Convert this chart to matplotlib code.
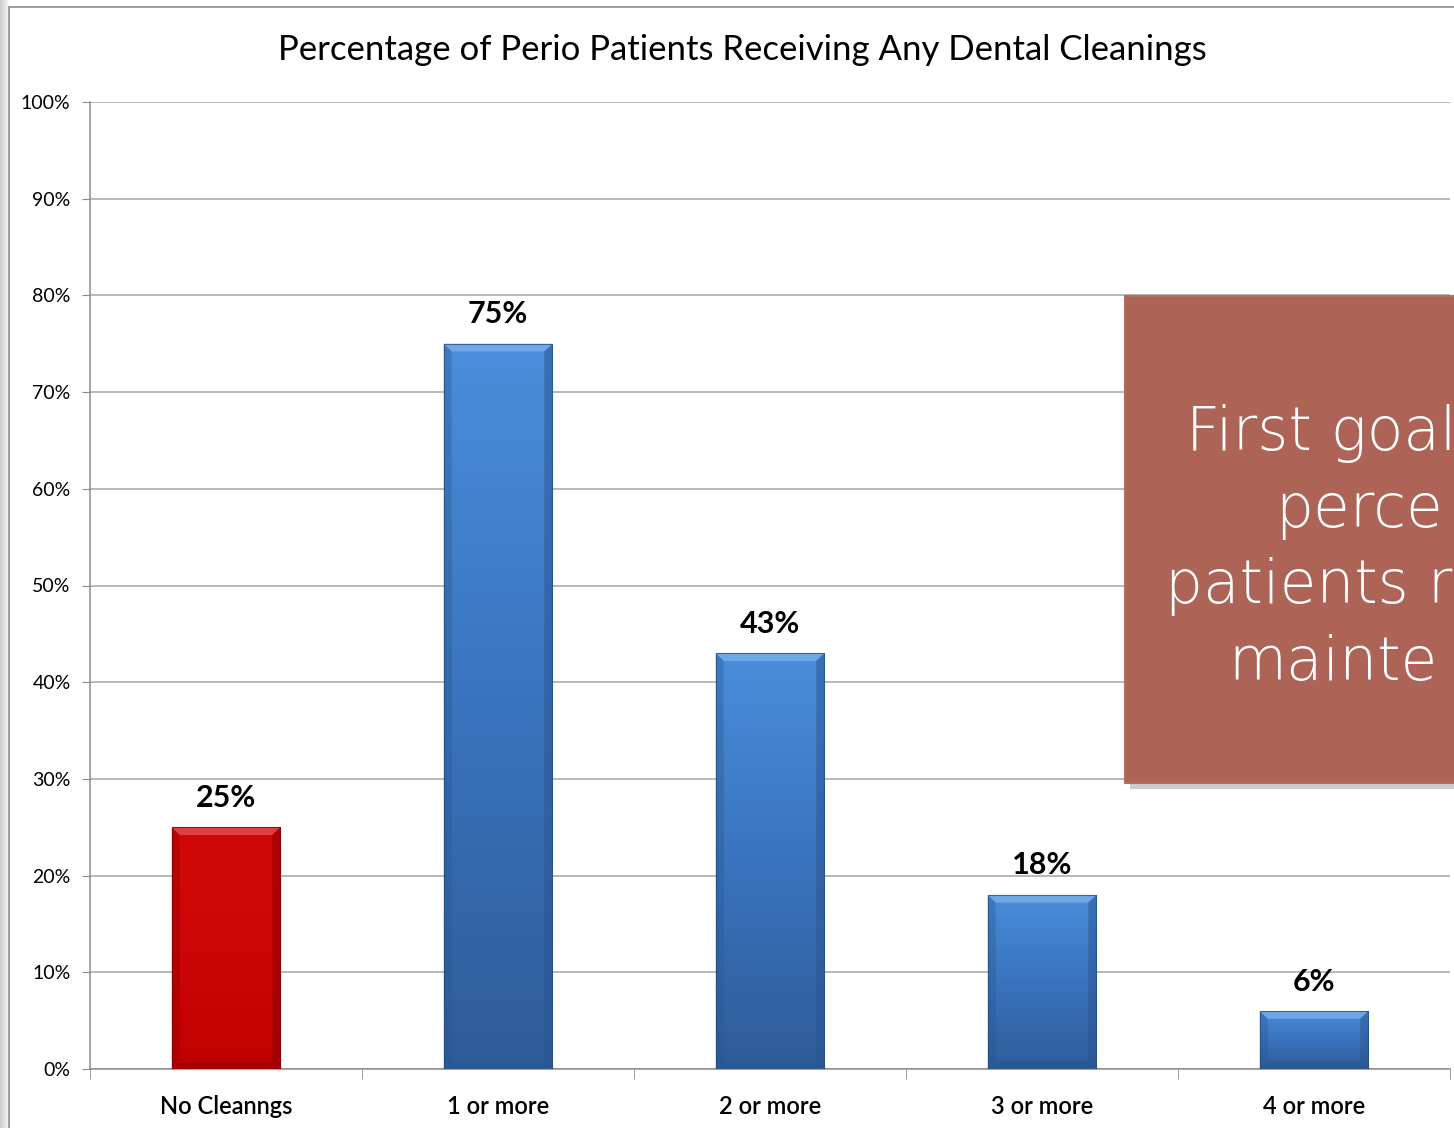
import numpy as np
import matplotlib
matplotlib.use("Agg")
import matplotlib.pyplot as plt
from matplotlib.patches import Rectangle, Polygon
from matplotlib.colors import LinearSegmentedColormap

# data
categories = ["No Cleanngs", "1 or more", "2 or more", "3 or more", "4 or more"]
values = [25, 75, 43, 18, 6]
value_labels = ["25%", "75%", "43%", "18%", "6%"]
y_ticks = [0, 10, 20, 30, 40, 50, 60, 70, 80, 90, 100]
title = "Percentage of Perio Patients Receiving Any Dental Cleanings"
note_lines = ["First goal", "perce", "patients r", "mainte"]

W, H = 1454, 1128
fig = plt.figure(figsize=(W / 100, H / 100), dpi=100)
fig.patch.set_facecolor("white")

def fx(px):
    return px / W

def fy(py):
    return 1 - py / H

# soft shadow strip left of the chart frame, and the frame itself
for i in range(9):
    shade = 0.80 + 0.02 * i
    fig.add_artist(Rectangle((fx(i), 0), fx(1), 1, transform=fig.transFigure,
                             facecolor=(shade, shade, shade), edgecolor="none", zorder=0))
fig.add_artist(Rectangle((fx(9), -0.01), 1.2, fy(7) + 0.01, transform=fig.transFigure,
                         facecolor="white", edgecolor="#8c8c8c", lw=1.2, zorder=0.5))

ax = fig.add_axes([fx(90), fy(1069), fx(1450 - 90), (1069 - 102) / H])
ax.set_facecolor("none")
ax.set_zorder(2)

x = np.arange(len(categories))
bars = ax.bar(x, values, width=0.4, color="none", edgecolor="none", zorder=3)

blue = LinearSegmentedColormap.from_list("b", ["#2e5c99", "#3a73bd", "#4a8edb"])
red = LinearSegmentedColormap.from_list("r", ["#c00000", "#cc0606", "#d00808"])
bx, by = 0.03, 0.8   # bevel size in data units
for i, b in enumerate(bars):
    x0, w, h = b.get_x(), b.get_width(), b.get_height()
    cmap = red if i == 0 else blue
    grad = np.linspace(0, 1, 256).reshape(-1, 1)
    im = ax.imshow(grad, extent=[x0, x0 + w, 0, h], origin="lower", aspect="auto",
                   cmap=cmap, zorder=3)
    im.set_clip_path(b)
    x1 = x0 + w
    top = "#e04848" if i == 0 else "#74aaea"
    side = "#8e0000" if i == 0 else "#2a5590"
    # bevel: bright top face, darker side faces
    ax.add_patch(Polygon([(x0, h), (x1, h), (x1 - bx, h - by), (x0 + bx, h - by)],
                         closed=True, facecolor=top, edgecolor="none", alpha=0.9, zorder=4))
    ax.add_patch(Polygon([(x0, 0), (x0, h), (x0 + bx, h - by), (x0 + bx, by)],
                         closed=True, facecolor=side, edgecolor="none", alpha=0.35, zorder=4))
    ax.add_patch(Polygon([(x1, 0), (x1, h), (x1 - bx, h - by), (x1 - bx, by)],
                         closed=True, facecolor=side, edgecolor="none", alpha=0.5, zorder=4))
    ax.add_patch(Polygon([(x0, 0), (x1, 0), (x1 - bx, by), (x0 + bx, by)],
                         closed=True, facecolor=side, edgecolor="none", alpha=0.5, zorder=4))
    edge = "#7a0000" if i == 0 else "#23497d"
    ax.add_patch(Rectangle((x0, 0), w, h, facecolor="none", edgecolor=edge, lw=0.8,
                           alpha=0.7, zorder=4))
    ax.text(x[i], h + 1.6, value_labels[i], ha="center", va="bottom",
            fontsize=22, fontweight="bold", family="Lato", color="black", zorder=5)

ax.set_xlim(-0.5, len(categories) - 0.5)
ax.set_ylim(0, 100)
ax.set_yticks(y_ticks)
ax.set_yticklabels([f"{t}%" for t in y_ticks], fontsize=14, family="Lato")
ax.yaxis.grid(True, color="#a6a6a6", lw=1.1, zorder=1)
ax.set_axisbelow(True)

ax.set_xticks(x)
ax.set_xticklabels(categories, fontsize=17, family="Lato", fontweight="semibold")
ax.set_xticks(np.arange(-0.5, len(categories)), minor=True)
ax.tick_params(axis="x", which="major", length=0, pad=19)
ax.tick_params(axis="x", which="minor", length=7, color="#8c8c8c", direction="out")
ax.tick_params(axis="y", length=6, color="#8c8c8c", direction="out", pad=8)

for s in ["top", "right"]:
    ax.spines[s].set_visible(False)
for s in ["left", "bottom"]:
    ax.spines[s].set_color("#8c8c8c")
    ax.spines[s].set_linewidth(1.1)

fig.text(fx(742), fy(50), title, ha="center", va="center", fontsize=25, family="Lato")

# callout box on the right
fig.add_artist(Rectangle((fx(1130), fy(789)), 0.3, (789 - 300) / H, transform=fig.transFigure,
                         facecolor="#9a9a9a", edgecolor="none", alpha=0.5, zorder=5))
fig.add_artist(Rectangle((fx(1125), fy(783)), 0.3, (783 - 296) / H, transform=fig.transFigure,
                         facecolor="#ad6355", edgecolor="#b86c5e", lw=1.5, zorder=6))
line_x = [1186, 1275, 1165, 1228]
line_base = [450, 527, 603, 680]
for t, lx, ly in zip(note_lines, line_x, line_base):
    fig.text(fx(lx), fy(ly), t, ha="left", va="baseline", fontsize=43,
             family="DejaVu Sans", fontweight="light", color="white", zorder=7)

fig.savefig("out.png", dpi=100)
